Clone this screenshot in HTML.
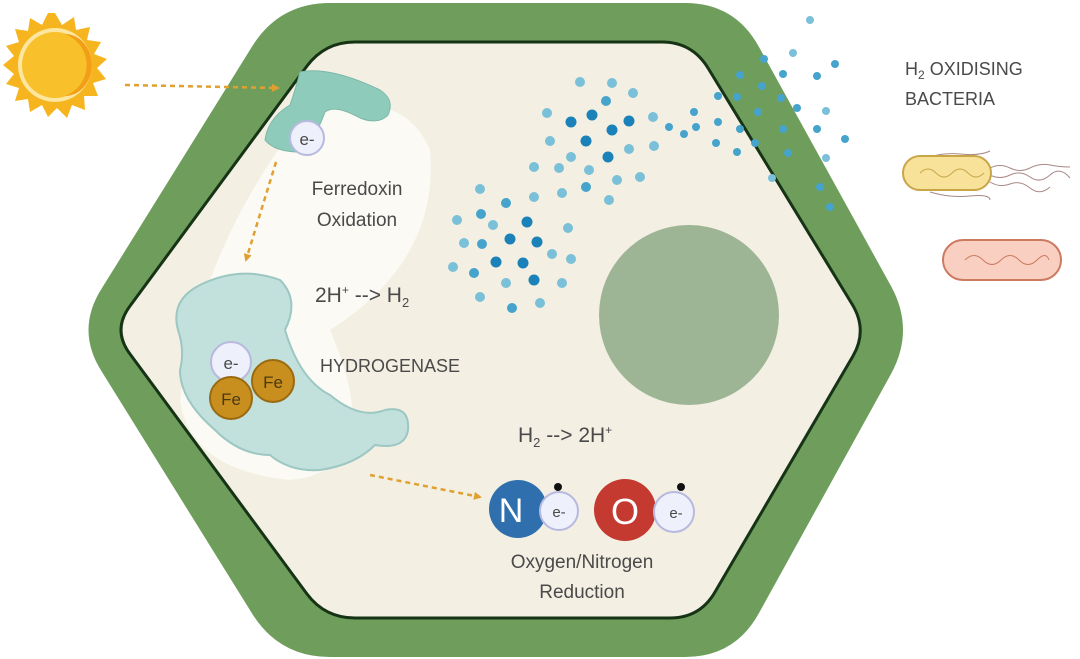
<!DOCTYPE html>
<html><head><meta charset="utf-8"><style>
html,body{margin:0;padding:0;background:#fff;width:1080px;height:659px;overflow:hidden}
svg{display:block}
text{font-family:"Liberation Sans",sans-serif;fill:#4a4a4a}
</style></head><body>
<svg width="1080" height="659" viewBox="0 0 1080 659" xmlns="http://www.w3.org/2000/svg">
<defs>
<marker id="ar" markerWidth="8" markerHeight="8" refX="6" refY="4" orient="auto" markerUnits="userSpaceOnUse"><path d="M0,0 L8,4 L0,8 z" fill="#e0a030"/></marker>
</defs>
<!-- hexagon -->
<path d="M330,3 L685,3 Q735,3 759,47 L891,286 Q915,330 891,374 L759,613 Q735,657 685,657 L330,657 Q280,657 253,615 L102,372 Q75,330 102,288 L253,45 Q280,3 330,3 Z" fill="#6f9e5c"/>
<path d="M355,42 L662,42 Q692,42 708,68 L852,304 Q868,330 853,356 L715,592 Q700,618 670,618 L355,618 Q325,618 307,594 L130,354 Q112,330 130,306 L307,66 Q325,42 355,42 Z" fill="#f3efe3" stroke="#163316" stroke-width="3"/>
<!-- glow -->
<path d="M300,120 Q400,80 430,150 Q440,260 330,330 Q390,470 290,480 Q190,470 180,400 Q200,250 300,120z" fill="#fbfaf4"/>
<!-- sun -->
<g transform="translate(55,65)">
<polygon fill="#f6b51e" points="0,-52 7,-40 19,-48 21,-35 35,-38 32,-25 46,-23 39,-11 52,-6 42,3 51,14 38,18 43,31 29,31 30,45 17,40 12,53 2,43 -7,52 -13,40 -25,47 -27,34 -40,36 -36,23 -49,19 -41,9 -52,0 -41,-9 -49,-19 -36,-23 -40,-36 -27,-34 -25,-47 -13,-40 -7,-52"/>
<circle r="37" fill="#fde6a0"/><circle r="33" fill="#f8c02a"/>
<path d="M10,-31 A33,33 0 0 1 10,31 A26,30 0 0 0 10,-31z" fill="#f29e17"/>
</g>
<line x1="125" y1="85" x2="278" y2="88" stroke="#e0a030" stroke-width="2.5" stroke-dasharray="5,4" marker-end="url(#ar)"/>
<!-- ferredoxin -->
<path d="M300,72 Q330,66 380,90 Q395,100 388,115 Q378,125 360,118 Q335,104 325,112 Q315,140 300,152 Q275,152 265,140 Q268,118 290,105 Q296,88 300,72z" fill="#8fcbbb" stroke="#7bb8a8" stroke-width="1"/>
<circle cx="307" cy="138" r="17" fill="#eef0fb" stroke="#b8b9e0" stroke-width="2"/>
<text x="307" y="145" font-size="17" text-anchor="middle">e-</text>
<text x="357" y="195" font-size="19" text-anchor="middle">Ferredoxin</text>
<text x="357" y="226" font-size="19" text-anchor="middle">Oxidation</text>
<line x1="276" y1="162" x2="246" y2="260" stroke="#e0a030" stroke-width="2.5" stroke-dasharray="5,4" marker-end="url(#ar)"/>
<!-- hydrogenase -->
<path d="M200,285 Q240,265 280,280 Q300,300 285,330 Q300,380 330,395 Q360,420 385,410 Q410,405 408,430 Q405,450 375,445 Q355,465 320,470 Q290,472 270,455 Q240,455 215,430 Q180,400 180,370 Q185,350 178,330 Q170,300 200,285z" fill="#c2e0dc" stroke="#9cc7c2" stroke-width="2"/>
<text x="315" y="302" font-size="21">2H<tspan font-size="12" dy="-8">+</tspan><tspan dy="8"> --&gt; H</tspan><tspan font-size="13" dy="5">2</tspan></text>
<text x="320" y="372" font-size="18">HYDROGENASE</text>
<circle cx="231" cy="362" r="20" fill="#eef0fb" stroke="#b8b9e0" stroke-width="2"/>
<text x="231" y="369" font-size="17" text-anchor="middle">e-</text>
<circle cx="273" cy="381" r="21" fill="#c98f1e" stroke="#9a6a10" stroke-width="2"/>
<text x="273" y="388" font-size="17" text-anchor="middle" style="fill:#4a3a10">Fe</text>
<circle cx="231" cy="398" r="21" fill="#c98f1e" stroke="#9a6a10" stroke-width="2"/>
<text x="231" y="405" font-size="17" text-anchor="middle" style="fill:#4a3a10">Fe</text>
<line x1="370" y1="475" x2="480" y2="497" stroke="#e0a030" stroke-width="2.5" stroke-dasharray="5,4" marker-end="url(#ar)"/>
<text x="518" y="442" font-size="21">H<tspan font-size="13" dy="5">2</tspan><tspan dy="-5"> --&gt; 2H</tspan><tspan font-size="12" dy="-8">+</tspan></text>
<!-- N O -->
<circle cx="518" cy="509" r="29" fill="#2f6fad"/>
<text x="511" y="522" font-size="34" style="fill:#fff" text-anchor="middle">N</text>
<circle cx="559" cy="511" r="19" fill="#eef0fb" stroke="#b8b9e0" stroke-width="2"/>
<circle cx="558" cy="487" r="4" fill="#111"/>
<text x="559" y="517" font-size="15" text-anchor="middle">e-</text>
<circle cx="625" cy="510" r="31" fill="#c43a30"/>
<text x="625" y="524" font-size="36" style="fill:#fff" text-anchor="middle">O</text>
<circle cx="674" cy="512" r="20" fill="#eef0fb" stroke="#b8b9e0" stroke-width="2"/>
<circle cx="681" cy="487" r="4" fill="#111"/>
<text x="676" y="518" font-size="15" text-anchor="middle">e-</text>
<text x="582" y="568" font-size="19" text-anchor="middle">Oxygen/Nitrogen</text>
<text x="582" y="598" font-size="19" text-anchor="middle">Reduction</text>
<!-- nucleus -->
<circle cx="689" cy="315" r="90" fill="#9db594"/>
<!-- dots -->
<g>
<g fill="#7ac0d8">
<circle cx="580" cy="82" r="5"/><circle cx="612" cy="83" r="5"/><circle cx="633" cy="93" r="5"/><circle cx="547" cy="113" r="5"/><circle cx="653" cy="117" r="5"/><circle cx="550" cy="141" r="5"/><circle cx="629" cy="149" r="5"/><circle cx="654" cy="146" r="5"/><circle cx="571" cy="157" r="5"/><circle cx="534" cy="167" r="5"/><circle cx="559" cy="168" r="5"/><circle cx="589" cy="170" r="5"/><circle cx="617" cy="180" r="5"/><circle cx="640" cy="177" r="5"/><circle cx="562" cy="193" r="5"/><circle cx="609" cy="200" r="5"/><circle cx="480" cy="189" r="5"/><circle cx="534" cy="197" r="5"/><circle cx="457" cy="220" r="5"/><circle cx="493" cy="225" r="5"/><circle cx="568" cy="228" r="5"/><circle cx="464" cy="243" r="5"/><circle cx="552" cy="254" r="5"/><circle cx="571" cy="259" r="5"/><circle cx="453" cy="267" r="5"/><circle cx="506" cy="283" r="5"/><circle cx="562" cy="283" r="5"/><circle cx="480" cy="297" r="5"/><circle cx="540" cy="303" r="5"/><circle cx="772" cy="178" r="4"/><circle cx="826" cy="158" r="4"/><circle cx="826" cy="111" r="4"/><circle cx="793" cy="53" r="4"/><circle cx="810" cy="20" r="4"/>
</g>
<g fill="#45a3cc">
<circle cx="606" cy="101" r="5"/><circle cx="586" cy="187" r="5"/><circle cx="506" cy="203" r="5"/><circle cx="481" cy="214" r="5"/><circle cx="482" cy="244" r="5"/><circle cx="474" cy="273" r="5"/><circle cx="512" cy="308" r="5"/><circle cx="669" cy="127" r="4"/><circle cx="684" cy="134" r="4"/><circle cx="694" cy="112" r="4"/><circle cx="696" cy="127" r="4"/><circle cx="718" cy="96" r="4"/><circle cx="718" cy="122" r="4"/><circle cx="716" cy="143" r="4"/><circle cx="737" cy="152" r="4"/><circle cx="740" cy="129" r="4"/><circle cx="737" cy="97" r="4"/><circle cx="755" cy="143" r="4"/><circle cx="758" cy="112" r="4"/><circle cx="762" cy="86" r="4"/><circle cx="740" cy="75" r="4"/><circle cx="783" cy="74" r="4"/><circle cx="817" cy="76" r="4"/><circle cx="781" cy="98" r="4"/><circle cx="797" cy="108" r="4"/><circle cx="783" cy="129" r="4"/><circle cx="817" cy="129" r="4"/><circle cx="845" cy="139" r="4"/><circle cx="788" cy="153" r="4"/><circle cx="820" cy="187" r="4"/><circle cx="830" cy="207" r="4"/><circle cx="764" cy="59" r="4"/><circle cx="835" cy="64" r="4"/>
</g>
<g fill="#1a82b8">
<circle cx="571" cy="122" r="5.5"/><circle cx="592" cy="115" r="5.5"/><circle cx="612" cy="130" r="5.5"/><circle cx="629" cy="121" r="5.5"/><circle cx="586" cy="141" r="5.5"/><circle cx="608" cy="157" r="5.5"/><circle cx="527" cy="222" r="5.5"/><circle cx="510" cy="239" r="5.5"/><circle cx="537" cy="242" r="5.5"/><circle cx="496" cy="262" r="5.5"/><circle cx="523" cy="263" r="5.5"/><circle cx="534" cy="280" r="5.5"/>
</g>
</g>
<!-- bacteria label -->
<text x="905" y="75" font-size="18">H<tspan font-size="12" dy="4">2</tspan><tspan dy="-4"> OXIDISING</tspan></text>
<text x="905" y="105" font-size="18">BACTERIA</text>
<g fill="none" stroke="#a88" stroke-width="1">
<path d="M990,168 q10,-5 20,0 t20,0 t20,-3 t20,2"/><path d="M990,175 q10,5 20,0 t20,2 t20,-2 t20,3"/><path d="M990,182 q10,6 20,2 t20,4 t20,-1"/><path d="M920,160 q20,-8 40,-6 t30,-3"/><path d="M930,192 q20,6 40,4 t20,4"/>
</g>
<rect x="903" y="156" width="88" height="34" rx="17" fill="#f8e29a" stroke="#c8a648" stroke-width="2"/>
<path d="M920,173 q8,-8 16,0 t16,0 t16,0 t16,0" stroke="#c8a648" fill="none"/>
<rect x="943" y="240" width="118" height="40" rx="20" fill="#f8cfc0" stroke="#cc7a60" stroke-width="2"/>
<path d="M965,260 q9,-9 18,0 t18,0 t18,0 t18,0 t12,0" stroke="#cc7a60" fill="none"/>
</svg>
</body></html>
